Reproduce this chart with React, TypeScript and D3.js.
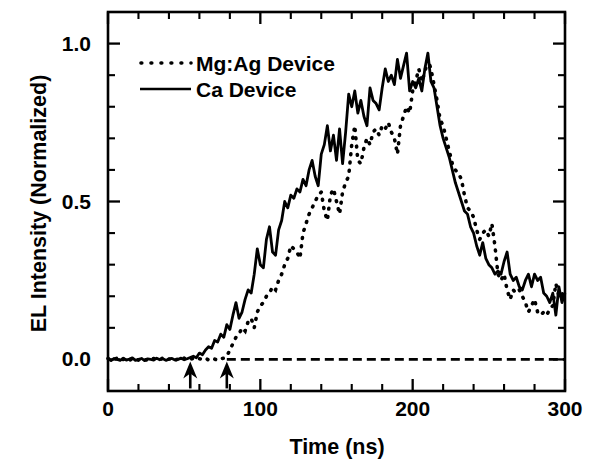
import React from 'react';
import * as d3 from 'd3';

// sampling grid of both traces (ns)
const sampleStep = 2;

const caDevice = [
  0.002, -0.004, 0.003, 0.0, -0.003, 0.004, -0.002, 0.001, 0.005, -0.003, 0.0, 0.003, -0.004, 0.002,
  0.0, -0.002, 0.004, -0.001, 0.002, -0.003, 0.001, 0.003, -0.002, 0.0, 0.004, -0.001, 0.002, 0.006,
  0.01, 0.005, 0.02, 0.015, 0.03, 0.04, 0.035, 0.06, 0.055, 0.08, 0.07, 0.11, 0.095, 0.14, 0.18, 0.13,
  0.15, 0.19, 0.22, 0.21, 0.27, 0.35, 0.3, 0.29, 0.38, 0.42, 0.34, 0.33, 0.41, 0.44, 0.5, 0.48, 0.52,
  0.51, 0.54, 0.53, 0.57, 0.55,
  0.6, 0.63, 0.58, 0.55, 0.65, 0.68, 0.74, 0.66, 0.71, 0.63, 0.73, 0.62, 0.72, 0.84, 0.8, 0.85, 0.78,
  0.82, 0.77, 0.74, 0.86, 0.82, 0.81, 0.79, 0.86, 0.92, 0.88, 0.9, 0.87, 0.95, 0.89, 0.93, 0.97, 0.85,
  0.88, 0.86, 0.89, 0.85, 0.92, 0.97, 0.88, 0.86, 0.8, 0.74, 0.7, 0.67, 0.64, 0.6, 0.56, 0.53, 0.5,
  0.47, 0.46, 0.42, 0.4, 0.36, 0.33, 0.37, 0.32, 0.3, 0.29, 0.27, 0.28, 0.27, 0.31, 0.34, 0.27, 0.25,
  0.26, 0.23, 0.22, 0.25, 0.27, 0.23, 0.27, 0.25, 0.26, 0.21, 0.2, 0.18, 0.21, 0.14, 0.23, 0.18, 0.21,
];

const mgAgDevice = [
  0.003, -0.002, 0.001, 0.004, -0.003, 0.0, 0.002, -0.004, 0.003, 0.001, -0.002, 0.004, 0.0, -0.003,
  0.002, 0.003, -0.001, 0.0, 0.004, -0.002, 0.001, 0.003, -0.003, 0.002, 0.0, 0.004, -0.002, 0.001,
  0.003, -0.001, 0.002, 0.0, 0.004, -0.002, 0.003, 0.001, -0.003, 0.002, 0.004,
  0.01, 0.03, 0.05, 0.07, 0.08, 0.1, 0.09, 0.12, 0.13, 0.1, 0.15, 0.17, 0.18, 0.2, 0.21, 0.23, 0.22,
  0.25, 0.27, 0.3, 0.32, 0.36, 0.35, 0.34, 0.32, 0.4, 0.43, 0.46, 0.48, 0.5, 0.52, 0.53, 0.47, 0.44,
  0.52, 0.54, 0.5, 0.46, 0.53, 0.56, 0.58, 0.68, 0.74, 0.63, 0.62, 0.67, 0.7, 0.68, 0.72, 0.73, 0.71,
  0.74, 0.73, 0.75, 0.72, 0.7, 0.65, 0.74, 0.77, 0.8, 0.78, 0.85, 0.88, 0.92, 0.88, 0.91, 0.95, 0.92,
  0.87, 0.82, 0.76, 0.74, 0.7, 0.66, 0.62, 0.6, 0.59, 0.57, 0.52, 0.48, 0.47, 0.45, 0.41, 0.38, 0.4,
  0.41, 0.39, 0.43, 0.36, 0.27, 0.25, 0.27, 0.22, 0.19, 0.22, 0.21, 0.22, 0.2, 0.18, 0.15, 0.17, 0.19,
  0.15, 0.14, 0.15, 0.14, 0.16, 0.17, 0.24, 0.2, 0.21, 0.19,
];

const seriesNames = ['Mg:Ag Device', 'Ca Device'];
const xTickLabels = ['0', '100', '200', '300'];
const yTickLabels = ['0.0', '0.5', '1.0'];
const onsetTimes = [54, 78]; // arrows
const baselineStart = 78;

const W = 597, H = 462;
const FONT = '"Liberation Sans", Arial, Helvetica, sans-serif';

export default function App() {
  const x = d3.scaleLinear().domain([0, 300]).range([108, 565]);
  const y = d3.scaleLinear().domain([-0.1, 1.1]).range([391, 12]);

  const line = d3.line<number>()
    .x((_, i) => x(i * sampleStep))
    .y(d => y(d));

  const xMajor = x.ticks(3);
  const xMinor = d3.range(20, 300, 20).filter(v => v % 100 !== 0);
  const yMajor = [0, 0.5, 1.0];
  const yMinor = [0.1, 0.2, 0.3, 0.4, 0.6, 0.7, 0.8, 0.9];

  const [x0, x1] = x.range();
  const [yb, yt] = y.range();

  return (
    <svg width={W} height={H} style={{ position: 'absolute', left: 0, top: 0, background: '#fff' }}>
      {/* zero baseline */}
      <line x1={x(baselineStart)} x2={x(300)} y1={y(0)} y2={y(0)}
        stroke="#000" strokeWidth={2.6} strokeDasharray="9 5" />

      <path d={line(mgAgDevice) || ''} fill="none" stroke="#000" strokeWidth={3.6}
        strokeLinecap="round" strokeDasharray="0.8 7.5" />
      <path d={line(caDevice) || ''} fill="none" stroke="#000" strokeWidth={2.8}
        strokeLinejoin="round" />

      {/* onset arrows */}
      {onsetTimes.map(t => {
        const ax = x(t), tip = y(0) + 2;
        return (
          <g key={t}>
            <line x1={ax} x2={ax} y1={tip + 10} y2={tip + 27} stroke="#000" strokeWidth={2.6} />
            <path d={`M${ax},${tip} L${ax - 7},${tip + 17} L${ax},${tip + 12} L${ax + 7},${tip + 17} Z`} fill="#000" />
          </g>
        );
      })}

      {/* frame */}
      <rect x={x0} y={yt} width={x1 - x0} height={yb - yt} fill="none" stroke="#000" strokeWidth={2.6} />

      {xMajor.map(v => (
        <g key={'xm' + v}>
          <line x1={x(v)} x2={x(v)} y1={yb} y2={yb - 12} stroke="#000" strokeWidth={2.3} />
          <line x1={x(v)} x2={x(v)} y1={yt} y2={yt + 12} stroke="#000" strokeWidth={2.3} />
        </g>
      ))}
      {xMinor.map(v => (
        <g key={'xn' + v}>
          <line x1={x(v)} x2={x(v)} y1={yb} y2={yb - 7} stroke="#000" strokeWidth={2.1} />
          <line x1={x(v)} x2={x(v)} y1={yt} y2={yt + 7} stroke="#000" strokeWidth={2.1} />
        </g>
      ))}
      {yMajor.map(v => (
        <g key={'ym' + v}>
          <line x1={x0} x2={x0 + 12} y1={y(v)} y2={y(v)} stroke="#000" strokeWidth={2.3} />
          <line x1={x1} x2={x1 - 12} y1={y(v)} y2={y(v)} stroke="#000" strokeWidth={2.3} />
        </g>
      ))}
      {yMinor.map(v => (
        <g key={'yn' + v}>
          <line x1={x0} x2={x0 + 7} y1={y(v)} y2={y(v)} stroke="#000" strokeWidth={2.1} />
          <line x1={x1} x2={x1 - 7} y1={y(v)} y2={y(v)} stroke="#000" strokeWidth={2.1} />
        </g>
      ))}

      <g fontFamily={FONT} fontWeight="bold" fill="#000">
        {xMajor.map((v, i) => (
          <text key={'xl' + v} x={x(v)} y={416} fontSize={21} textAnchor="middle">{xTickLabels[i]}</text>
        ))}
        {yMajor.map((v, i) => (
          <text key={'yl' + v} x={91} y={y(v) + 7} fontSize={21} textAnchor="end">{yTickLabels[i]}</text>
        ))}
        <text x={337} y={454} fontSize={21.5} textAnchor="middle">Time (ns)</text>
        <text transform={`translate(46,${(yb + yt) / 2 + 2}) rotate(-90)`} fontSize={21.5} textAnchor="middle">
          EL Intensity (Normalized)
        </text>

        {/* legend */}
        <line x1={141} x2={191} y1={63} y2={63} stroke="#000" strokeWidth={3.6}
          strokeLinecap="round" strokeDasharray="0.8 9.2" />
        <text x={196} y={71} fontSize={21}>{seriesNames[0]}</text>
        <line x1={140} x2={191} y1={89} y2={89} stroke="#000" strokeWidth={2.4} />
        <text x={196} y={97} fontSize={21}>{seriesNames[1]}</text>
      </g>
    </svg>
  );
}
